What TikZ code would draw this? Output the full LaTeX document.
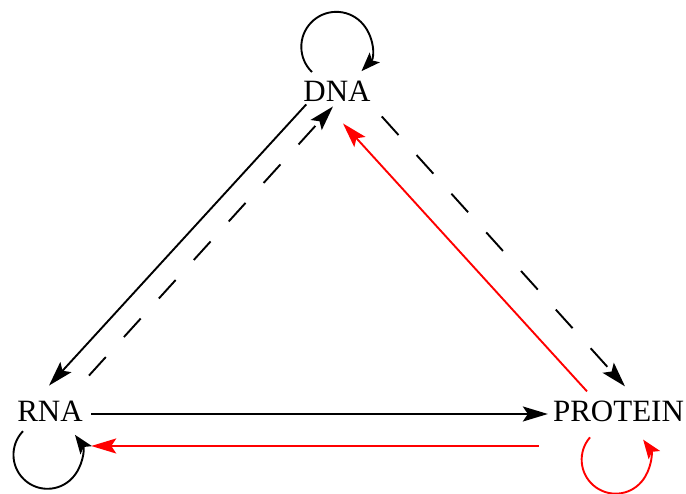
\documentclass[tikz,border=0pt]{standalone}
\usepackage{fontspec}
\setmainfont{Liberation Serif}
\usepackage{tikz}
\usetikzlibrary{arrows.meta}
\definecolor{Ink}{HTML}{000000}
\definecolor{Signal}{HTML}{FF0000}
\tikzset{
  mol/.style={inner sep=0pt,font=\fontsize{31}{36}\selectfont,text=Ink},
  flowArrow/.style={-{Stealth[length=25pt,width=15pt,inset=5pt]},line width=1.9pt,draw=Ink},
  dashArrow/.style={flowArrow,dash pattern=on 25pt off 27pt},
  redArrow/.style={flowArrow,draw=Signal,fill=Signal},
  selfLoop/.style={-{Stealth[length=19pt,width=14pt,inset=4pt]},line width=1.9pt,draw=Ink},
  redLoop/.style={selfLoop,draw=Signal,fill=none}
}
\begin{document}
\begin{tikzpicture}[x=1pt,y=1pt]
  \useasboundingbox (0,0) rectangle (686,494);
  \node[mol] (DNA) at (337,403) {DNA};
  \node[mol] (RNA) at (50,82.5) {RNA};
  \node[mol] (PROT) at (618.5,82.5) {PROTEIN};

  \draw[flowArrow] ([shift={(3,-3)}]DNA.south west) -- ([shift={(-1,15.5)}]RNA.north);
  \draw[dashArrow] ([shift={(39,25.5)}]RNA.north) -- ([shift={(-4,-5)}]DNA.south);
  \draw[dashArrow] ([shift={(11,-15)}]DNA.south east) -- ([shift={(6.5,14.5)}]PROT.north);
  \draw[redArrow] ([shift={(-31.5,9.5)}]PROT.north) -- ([shift={(6,-22)}]DNA.south);
  \draw[flowArrow] ([shift={(8.3,-2.5)}]RNA.east) -- ([shift={(-5,-2.5)}]PROT.west);
  \draw[redArrow] ([shift={(-14,-34.5)}]PROT.west) -- ([shift={(8.3,-34.5)}]RNA.east);

  \draw[selfLoop] ([shift={(-25,8.5)}]DNA.north) arc[start angle=226,end angle=-44,radius=35];
  \draw[selfLoop] ([shift={(-27,-9.25)}]RNA.south) arc[start angle=136,end angle=396,radius=34];
  \draw[redLoop,-{Stealth[length=19pt,width=14pt,inset=4pt,fill=Signal]}] ([shift={(-28.5,-15.25)}]PROT.south) arc[start angle=139,end angle=396,radius=34];
\end{tikzpicture}
\end{document}
